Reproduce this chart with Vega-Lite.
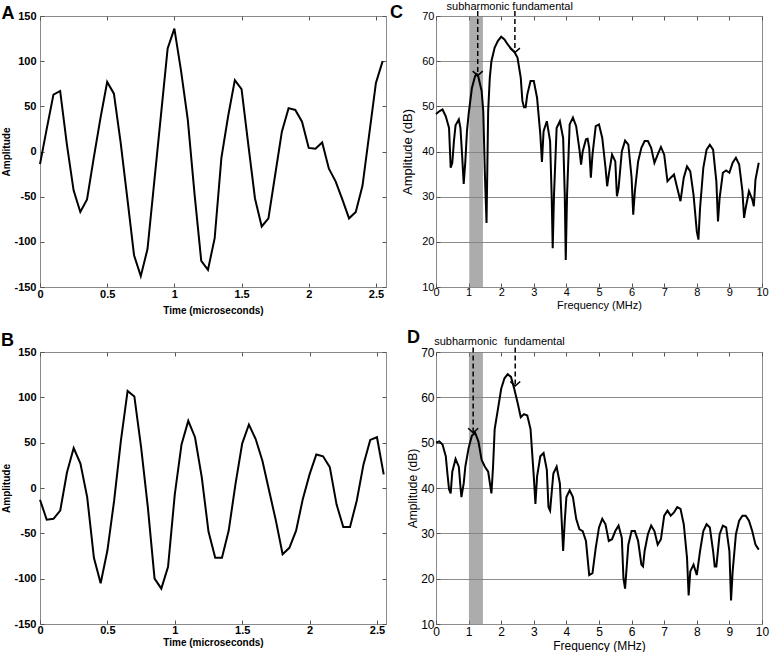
{
  "$schema": "https://vega.github.io/schema/vega-lite/v6.json",
  "autosize": {"type": "pad"},
  "padding": 0,
  "background": "white",
  "bounds": "flush",
  "columns": 2,
  "spacing": {"row": 65, "column": 50},
  "config": {
    "font": "Liberation Sans",
    "view": {"stroke": "#8a8a8a", "strokeWidth": 1},
    "axis": {"domain": false, "grid": false, "tickColor": "#555555", "tickSize": -4, "labelColor": "#000000", "titleColor": "#000000", "labelFlush": false, "labelOverlap": false}
  },
  "datasets": {
    "A": [
      {"t": 0, "v": -14}, {"t": 0.05, "v": 25}, {"t": 0.1, "v": 63}, {"t": 0.15, "v": 67}, {"t": 0.2, "v": 8},
      {"t": 0.25, "v": -43}, {"t": 0.3, "v": -67}, {"t": 0.35, "v": -53}, {"t": 0.4, "v": -7}, {"t": 0.45, "v": 37},
      {"t": 0.5, "v": 77}, {"t": 0.55, "v": 64}, {"t": 0.6, "v": 10}, {"t": 0.65, "v": -52}, {"t": 0.7, "v": -115},
      {"t": 0.75, "v": -138}, {"t": 0.8, "v": -108}, {"t": 0.85, "v": -34}, {"t": 0.9, "v": 40}, {"t": 0.95, "v": 114},
      {"t": 1.0, "v": 136}, {"t": 1.05, "v": 89}, {"t": 1.1, "v": 35}, {"t": 1.15, "v": -47}, {"t": 1.2, "v": -121},
      {"t": 1.25, "v": -131}, {"t": 1.3, "v": -96}, {"t": 1.35, "v": -7}, {"t": 1.4, "v": 39}, {"t": 1.45, "v": 79},
      {"t": 1.5, "v": 69}, {"t": 1.55, "v": 8}, {"t": 1.6, "v": -52}, {"t": 1.65, "v": -83}, {"t": 1.7, "v": -74},
      {"t": 1.75, "v": -26}, {"t": 1.8, "v": 22}, {"t": 1.85, "v": 48}, {"t": 1.9, "v": 46}, {"t": 1.95, "v": 33},
      {"t": 2.0, "v": 4}, {"t": 2.05, "v": 3}, {"t": 2.1, "v": 10}, {"t": 2.15, "v": -19}, {"t": 2.2, "v": -33},
      {"t": 2.25, "v": -53}, {"t": 2.3, "v": -74}, {"t": 2.35, "v": -67}, {"t": 2.4, "v": -38}, {"t": 2.45, "v": 19},
      {"t": 2.5, "v": 76}, {"t": 2.55, "v": 100}
    ],
    "B": [
      {"t": 0, "v": -13}, {"t": 0.05, "v": -35}, {"t": 0.1, "v": -34}, {"t": 0.15, "v": -25}, {"t": 0.2, "v": 17},
      {"t": 0.25, "v": 44}, {"t": 0.3, "v": 27}, {"t": 0.35, "v": -10}, {"t": 0.4, "v": -77}, {"t": 0.45, "v": -105},
      {"t": 0.5, "v": -69}, {"t": 0.55, "v": -14}, {"t": 0.6, "v": 52}, {"t": 0.65, "v": 107}, {"t": 0.7, "v": 101},
      {"t": 0.75, "v": 45}, {"t": 0.8, "v": -21}, {"t": 0.85, "v": -100}, {"t": 0.9, "v": -111}, {"t": 0.95, "v": -87},
      {"t": 1.0, "v": -7}, {"t": 1.05, "v": 48}, {"t": 1.1, "v": 74}, {"t": 1.15, "v": 56}, {"t": 1.2, "v": 12},
      {"t": 1.25, "v": -48}, {"t": 1.3, "v": -77}, {"t": 1.35, "v": -77}, {"t": 1.4, "v": -47}, {"t": 1.45, "v": 4},
      {"t": 1.5, "v": 49}, {"t": 1.55, "v": 70}, {"t": 1.6, "v": 54}, {"t": 1.65, "v": 30}, {"t": 1.7, "v": -3},
      {"t": 1.75, "v": -36}, {"t": 1.8, "v": -73}, {"t": 1.85, "v": -66}, {"t": 1.9, "v": -47}, {"t": 1.95, "v": -12},
      {"t": 2.0, "v": 15}, {"t": 2.05, "v": 37}, {"t": 2.1, "v": 35}, {"t": 2.15, "v": 23}, {"t": 2.2, "v": -18},
      {"t": 2.25, "v": -43}, {"t": 2.3, "v": -43}, {"t": 2.35, "v": -14}, {"t": 2.4, "v": 26}, {"t": 2.45, "v": 53},
      {"t": 2.5, "v": 56}, {"t": 2.55, "v": 15}
    ],
    "C": [
      {"f": 0, "db": 48.3}, {"f": 0.1, "db": 48.9}, {"f": 0.2, "db": 49.3}, {"f": 0.3, "db": 47.8}, {"f": 0.4, "db": 45.2},
      {"f": 0.45, "db": 36.4}, {"f": 0.5, "db": 37.5}, {"f": 0.55, "db": 42.3}, {"f": 0.6, "db": 45.8}, {"f": 0.7, "db": 47.1},
      {"f": 0.75, "db": 45.2}, {"f": 0.8, "db": 39.3}, {"f": 0.85, "db": 32.8}, {"f": 0.9, "db": 37.8}, {"f": 0.95, "db": 44.5},
      {"f": 1.0, "db": 48.2}, {"f": 1.1, "db": 54}, {"f": 1.2, "db": 56.7}, {"f": 1.25, "db": 57.1}, {"f": 1.3, "db": 56.5},
      {"f": 1.4, "db": 53.4}, {"f": 1.45, "db": 48.9}, {"f": 1.5, "db": 34.9}, {"f": 1.55, "db": 24.2}, {"f": 1.6, "db": 48.9},
      {"f": 1.65, "db": 56.3}, {"f": 1.7, "db": 60}, {"f": 1.8, "db": 63}, {"f": 1.9, "db": 64.5}, {"f": 2.0, "db": 65.4},
      {"f": 2.1, "db": 64.8}, {"f": 2.2, "db": 63.7}, {"f": 2.3, "db": 62.8}, {"f": 2.4, "db": 62.1}, {"f": 2.5, "db": 60.8},
      {"f": 2.6, "db": 56.3}, {"f": 2.65, "db": 51.2}, {"f": 2.7, "db": 49.8}, {"f": 2.75, "db": 49.8}, {"f": 2.8, "db": 52.6},
      {"f": 2.9, "db": 55.6}, {"f": 3.0, "db": 55.6}, {"f": 3.1, "db": 51.9}, {"f": 3.2, "db": 43.8}, {"f": 3.25, "db": 37.7},
      {"f": 3.3, "db": 44.5}, {"f": 3.4, "db": 46.7}, {"f": 3.5, "db": 42.3}, {"f": 3.55, "db": 29.7}, {"f": 3.58, "db": 18.6},
      {"f": 3.62, "db": 30.4}, {"f": 3.7, "db": 45.2}, {"f": 3.8, "db": 46.7}, {"f": 3.9, "db": 43}, {"f": 3.95, "db": 30.4},
      {"f": 3.98, "db": 16}, {"f": 4.02, "db": 30.4}, {"f": 4.1, "db": 46}, {"f": 4.2, "db": 47.5}, {"f": 4.3, "db": 45.6},
      {"f": 4.4, "db": 40.4}, {"f": 4.45, "db": 37.1}, {"f": 4.5, "db": 40}, {"f": 4.6, "db": 42.7}, {"f": 4.65, "db": 42.8},
      {"f": 4.7, "db": 40.8}, {"f": 4.75, "db": 34.2}, {"f": 4.8, "db": 39.3}, {"f": 4.9, "db": 45.6}, {"f": 5.0, "db": 46},
      {"f": 5.1, "db": 43}, {"f": 5.2, "db": 36.4}, {"f": 5.25, "db": 32.3}, {"f": 5.3, "db": 34.9}, {"f": 5.4, "db": 39.3},
      {"f": 5.5, "db": 37.8}, {"f": 5.55, "db": 30.1}, {"f": 5.6, "db": 31.9}, {"f": 5.7, "db": 40}, {"f": 5.8, "db": 42.4},
      {"f": 5.9, "db": 41.5}, {"f": 6.0, "db": 34.2}, {"f": 6.05, "db": 26}, {"f": 6.1, "db": 31.2}, {"f": 6.2, "db": 37.8},
      {"f": 6.3, "db": 40.8}, {"f": 6.4, "db": 42.3}, {"f": 6.5, "db": 42.3}, {"f": 6.6, "db": 40.8}, {"f": 6.7, "db": 37.5},
      {"f": 6.8, "db": 39.3}, {"f": 6.9, "db": 41}, {"f": 7.0, "db": 39.3}, {"f": 7.1, "db": 33.4}, {"f": 7.2, "db": 34.2},
      {"f": 7.3, "db": 34.9}, {"f": 7.4, "db": 31.9}, {"f": 7.5, "db": 29}, {"f": 7.6, "db": 34.2}, {"f": 7.7, "db": 36.7},
      {"f": 7.8, "db": 35.6}, {"f": 7.9, "db": 30.4}, {"f": 8.0, "db": 22.3}, {"f": 8.05, "db": 20.5}, {"f": 8.1, "db": 27.5},
      {"f": 8.2, "db": 36.4}, {"f": 8.3, "db": 40.4}, {"f": 8.4, "db": 41.5}, {"f": 8.5, "db": 40.4}, {"f": 8.6, "db": 33.4},
      {"f": 8.65, "db": 24.5}, {"f": 8.7, "db": 29.7}, {"f": 8.8, "db": 35.3}, {"f": 8.9, "db": 35.8}, {"f": 9.0, "db": 35.3},
      {"f": 9.1, "db": 37.5}, {"f": 9.2, "db": 38.6}, {"f": 9.3, "db": 37.1}, {"f": 9.4, "db": 31.2}, {"f": 9.45, "db": 25.3},
      {"f": 9.5, "db": 27.5}, {"f": 9.6, "db": 31.2}, {"f": 9.7, "db": 29.4}, {"f": 9.75, "db": 27.9}, {"f": 9.8, "db": 33.8},
      {"f": 9.9, "db": 37.5}
    ],
    "D": [
      {"f": 0, "db": 50}, {"f": 0.1, "db": 50.3}, {"f": 0.2, "db": 49.6}, {"f": 0.3, "db": 47}, {"f": 0.35, "db": 43.2},
      {"f": 0.4, "db": 39.7}, {"f": 0.45, "db": 38.8}, {"f": 0.5, "db": 43.6}, {"f": 0.6, "db": 46.4}, {"f": 0.7, "db": 44.7},
      {"f": 0.75, "db": 40.3}, {"f": 0.78, "db": 38}, {"f": 0.85, "db": 41}, {"f": 0.9, "db": 44.7}, {"f": 1.0, "db": 48.8},
      {"f": 1.1, "db": 51.5}, {"f": 1.2, "db": 52.2}, {"f": 1.3, "db": 50.3}, {"f": 1.4, "db": 46.2}, {"f": 1.5, "db": 44.7},
      {"f": 1.6, "db": 43.6}, {"f": 1.7, "db": 38.8}, {"f": 1.75, "db": 44.7}, {"f": 1.8, "db": 53}, {"f": 1.9, "db": 57.4},
      {"f": 2.0, "db": 61.9}, {"f": 2.1, "db": 64.2}, {"f": 2.2, "db": 65.1}, {"f": 2.3, "db": 64.5}, {"f": 2.4, "db": 61.9},
      {"f": 2.5, "db": 58.9}, {"f": 2.6, "db": 55.6}, {"f": 2.7, "db": 56.3}, {"f": 2.8, "db": 56}, {"f": 2.9, "db": 53},
      {"f": 3.0, "db": 42.5}, {"f": 3.05, "db": 36.5}, {"f": 3.1, "db": 42.5}, {"f": 3.2, "db": 47}, {"f": 3.3, "db": 47.7},
      {"f": 3.4, "db": 44}, {"f": 3.45, "db": 35.8}, {"f": 3.5, "db": 35}, {"f": 3.6, "db": 43.2}, {"f": 3.7, "db": 44.7},
      {"f": 3.8, "db": 41}, {"f": 3.9, "db": 26.1}, {"f": 3.95, "db": 32.8}, {"f": 4.0, "db": 38}, {"f": 4.1, "db": 39.5},
      {"f": 4.2, "db": 38}, {"f": 4.3, "db": 33.2}, {"f": 4.4, "db": 30.9}, {"f": 4.5, "db": 30.5}, {"f": 4.6, "db": 28.3},
      {"f": 4.7, "db": 20.8}, {"f": 4.8, "db": 21.2}, {"f": 4.9, "db": 26.8}, {"f": 5.0, "db": 31.3}, {"f": 5.1, "db": 33.2},
      {"f": 5.2, "db": 32}, {"f": 5.3, "db": 28.3}, {"f": 5.4, "db": 28.7}, {"f": 5.5, "db": 30.5}, {"f": 5.6, "db": 31.7},
      {"f": 5.7, "db": 29}, {"f": 5.75, "db": 20.1}, {"f": 5.8, "db": 17.8}, {"f": 5.9, "db": 27.5}, {"f": 6.0, "db": 30.5},
      {"f": 6.1, "db": 30.5}, {"f": 6.2, "db": 28.3}, {"f": 6.3, "db": 23.1}, {"f": 6.35, "db": 22.7}, {"f": 6.4, "db": 26.1},
      {"f": 6.5, "db": 29.8}, {"f": 6.6, "db": 31.7}, {"f": 6.7, "db": 30.5}, {"f": 6.8, "db": 27.5}, {"f": 6.9, "db": 28.7},
      {"f": 7.0, "db": 33.9}, {"f": 7.1, "db": 35}, {"f": 7.2, "db": 33.9}, {"f": 7.3, "db": 34.6}, {"f": 7.4, "db": 35.8},
      {"f": 7.5, "db": 35.4}, {"f": 7.6, "db": 32}, {"f": 7.7, "db": 24.6}, {"f": 7.75, "db": 16.3}, {"f": 7.8, "db": 21.6},
      {"f": 7.9, "db": 23.1}, {"f": 8.0, "db": 20.8}, {"f": 8.1, "db": 26.1}, {"f": 8.2, "db": 30.5}, {"f": 8.3, "db": 32},
      {"f": 8.4, "db": 31.3}, {"f": 8.5, "db": 26.1}, {"f": 8.55, "db": 22.7}, {"f": 8.6, "db": 22.7}, {"f": 8.7, "db": 29.8},
      {"f": 8.8, "db": 31.7}, {"f": 8.9, "db": 31.3}, {"f": 9.0, "db": 26.1}, {"f": 9.05, "db": 15.2}, {"f": 9.1, "db": 21.6},
      {"f": 9.2, "db": 29.8}, {"f": 9.3, "db": 32.8}, {"f": 9.4, "db": 33.9}, {"f": 9.5, "db": 33.9}, {"f": 9.6, "db": 32.8},
      {"f": 9.7, "db": 30.5}, {"f": 9.8, "db": 27.5}, {"f": 9.9, "db": 26.4}
    ],
    "bandC": [{"from": 1.02, "to": 1.44}],
    "bandD": [{"from": 1.01, "to": 1.44}],
    "arrowsC": [
      {"name": "subharmonic", "f": 1.28, "top": 71.1, "tip": 56.8, "labelF": 1.29, "labelY": 72.05},
      {"name": "fundamental", "f": 2.42, "top": 71.1, "tip": 61.9, "labelF": 3.27, "labelY": 72.05}
    ],
    "arrowsD": [
      {"name": "subharmonic", "f": 1.14, "top": 71.0, "tip": 52.2, "labelF": 0.91, "labelY": 72.1},
      {"name": "fundamental", "f": 2.43, "top": 71.0, "tip": 62.5, "labelF": 3.02, "labelY": 72.1}
    ],
    "letterA": [{"x": -0.238, "y": 146.7, "label": "A"}],
    "letterB": [{"x": -0.242, "y": 156.6, "label": "B"}],
    "letterC": [{"x": -1.21, "y": 69.56, "label": "C"}],
    "letterD": [{"x": -0.69, "y": 71.99, "label": "D"}]
  },
  "concat": [
    {
      "width": 346, "height": 271,
      "layer": [
        {
          "data": {"name": "A"},
          "mark": {"type": "line", "color": "#000000", "strokeWidth": 2},
          "encoding": {
            "x": {"field": "t", "type": "quantitative", "scale": {"domain": [0, 2.575], "nice": false, "zero": false},
              "axis": {"orient": "bottom", "values": [0, 0.5, 1, 1.5, 2, 2.5], "format": "~g", "title": "Time (microseconds)", "labelFontSize": 11, "labelFontWeight": "bold", "titleFontSize": 10, "titleFontWeight": "bold", "labelPadding": 5, "titlePadding": 6}},
            "y": {"field": "v", "type": "quantitative", "scale": {"domain": [-150, 150], "nice": false, "zero": false},
              "axis": {"orient": "left", "values": [-150, -100, -50, 0, 50, 100, 150], "labelExpr": "replace(datum.label, '\u2212', '-')", "title": "Amplitude", "labelFontSize": 11, "labelFontWeight": "bold", "titleFontSize": 10, "titleFontWeight": "bold", "labelPadding": 8, "titlePadding": 2}}
          }
        },
        {
          "data": {"name": "letterA"},
          "mark": {"type": "text", "fontSize": 18, "fontWeight": "bold", "align": "center", "baseline": "alphabetic", "clip": false, "color": "#000000"},
          "encoding": {
            "x": {"field": "x", "type": "quantitative", "scale": {"domain": [0, 2.575], "nice": false, "zero": false},
              "axis": {"orient": "top", "values": [0, 0.5, 1, 1.5, 2, 2.5], "labels": false, "title": null}},
            "y": {"field": "y", "type": "quantitative", "scale": {"domain": [-150, 150], "nice": false, "zero": false},
              "axis": {"orient": "right", "values": [-150, -100, -50, 0, 50, 100, 150], "labels": false, "title": null}},
            "text": {"field": "label"}
          }
        }
      ],
      "resolve": {"axis": {"x": "independent", "y": "independent"}}
    },
    {
      "width": 326, "height": 271,
      "layer": [
        {
          "data": {"name": "bandC"},
          "mark": {"type": "rect", "color": "#808080", "opacity": 0.65},
          "encoding": {
            "x": {"field": "from", "type": "quantitative", "scale": {"domain": [0, 10], "nice": false, "zero": false},
              "axis": {"orient": "bottom", "values": [0, 1, 2, 3, 4, 5, 6, 7, 8, 9, 10], "title": "Frequency (MHz)", "labelFontSize": 11, "titleFontSize": 11, "titleFontWeight": "normal", "labelPadding": 3, "titlePadding": 2}},
            "x2": {"field": "to"}
          }
        },
        {
          "data": {"name": "C"},
          "mark": {"type": "line", "color": "#000000", "strokeWidth": 2},
          "encoding": {
            "x": {"field": "f", "type": "quantitative", "scale": {"domain": [0, 10], "nice": false, "zero": false}, "axis": null},
            "y": {"field": "db", "type": "quantitative", "scale": {"domain": [10, 70], "nice": false, "zero": false},
              "axis": {"orient": "left", "values": [10, 20, 30, 40, 50, 60, 70], "grid": true, "gridColor": "#8c8c8c", "gridOpacity": 1, "gridWidth": 1, "title": "Amplitude (dB)", "labelFontSize": 11, "titleFontSize": 13, "titleFontWeight": "normal", "labelPadding": 6, "titlePadding": 7}}
          }
        },
        {
          "data": {"name": "arrowsC"},
          "mark": {"type": "rule", "color": "#000000", "strokeWidth": 1.5, "strokeDash": [5, 3], "clip": false},
          "encoding": {
            "x": {"field": "f", "type": "quantitative", "scale": {"domain": [0, 10], "nice": false, "zero": false}, "axis": null},
            "y": {"field": "top", "type": "quantitative", "scale": {"domain": [10, 70], "nice": false, "zero": false}, "axis": null},
            "y2": {"field": "tip"}
          }
        },
        {
          "data": {"name": "arrowsC"},
          "mark": {"type": "point", "shape": "M-1,-0.9L0,0L1,-0.9", "size": 100, "filled": false, "stroke": "#000000", "strokeWidth": 1.5, "opacity": 1},
          "encoding": {
            "x": {"field": "f", "type": "quantitative", "scale": {"domain": [0, 10], "nice": false, "zero": false}, "axis": null},
            "y": {"field": "tip", "type": "quantitative", "scale": {"domain": [10, 70], "nice": false, "zero": false}, "axis": null}
          }
        },
        {
          "data": {"name": "arrowsC"},
          "mark": {"type": "text", "fontSize": 11, "align": "center", "baseline": "middle", "clip": false, "color": "#000000"},
          "encoding": {
            "x": {"field": "labelF", "type": "quantitative", "scale": {"domain": [0, 10], "nice": false, "zero": false}, "axis": null},
            "y": {"field": "labelY", "type": "quantitative", "scale": {"domain": [10, 70], "nice": false, "zero": false}, "axis": null},
            "text": {"field": "name"}
          }
        },
        {
          "data": {"name": "letterC"},
          "mark": {"type": "text", "fontSize": 18, "fontWeight": "bold", "align": "center", "baseline": "alphabetic", "clip": false, "color": "#000000"},
          "encoding": {
            "x": {"field": "x", "type": "quantitative", "scale": {"domain": [0, 10], "nice": false, "zero": false},
              "axis": {"orient": "top", "values": [0, 1, 2, 3, 4, 5, 6, 7, 8, 9, 10], "labels": false, "title": null}},
            "y": {"field": "y", "type": "quantitative", "scale": {"domain": [10, 70], "nice": false, "zero": false}, "axis": null},
            "text": {"field": "label"}
          }
        }
      ],
      "resolve": {"axis": {"x": "independent", "y": "independent"}}
    },
    {
      "width": 346, "height": 272,
      "layer": [
        {
          "data": {"name": "B"},
          "mark": {"type": "line", "color": "#000000", "strokeWidth": 2},
          "encoding": {
            "x": {"field": "t", "type": "quantitative", "scale": {"domain": [0, 2.567], "nice": false, "zero": false},
              "axis": {"orient": "bottom", "values": [0, 0.5, 1, 1.5, 2, 2.5], "format": "~g", "title": "Time (microseconds)", "labelFontSize": 11, "labelFontWeight": "bold", "titleFontSize": 10, "titleFontWeight": "bold", "labelPadding": 4, "titlePadding": 2}},
            "y": {"field": "v", "type": "quantitative", "scale": {"domain": [-150, 150], "nice": false, "zero": false},
              "axis": {"orient": "left", "values": [-150, -100, -50, 0, 50, 100, 150], "labelExpr": "replace(datum.label, '\u2212', '-')", "title": "Amplitude", "labelFontSize": 11, "labelFontWeight": "bold", "titleFontSize": 10, "titleFontWeight": "bold", "labelPadding": 8, "titlePadding": 2}}
          }
        },
        {
          "data": {"name": "letterB"},
          "mark": {"type": "text", "fontSize": 18, "fontWeight": "bold", "align": "center", "baseline": "alphabetic", "clip": false, "color": "#000000"},
          "encoding": {
            "x": {"field": "x", "type": "quantitative", "scale": {"domain": [0, 2.567], "nice": false, "zero": false},
              "axis": {"orient": "top", "values": [0, 0.5, 1, 1.5, 2, 2.5], "labels": false, "title": null}},
            "y": {"field": "y", "type": "quantitative", "scale": {"domain": [-150, 150], "nice": false, "zero": false},
              "axis": {"orient": "right", "values": [-150, -100, -50, 0, 50, 100, 150], "labels": false, "title": null}},
            "text": {"field": "label"}
          }
        }
      ],
      "resolve": {"axis": {"x": "independent", "y": "independent"}}
    },
    {
      "width": 326, "height": 272,
      "layer": [
        {
          "data": {"name": "bandD"},
          "mark": {"type": "rect", "color": "#808080", "opacity": 0.65},
          "encoding": {
            "x": {"field": "from", "type": "quantitative", "scale": {"domain": [0, 10], "nice": false, "zero": false},
              "axis": {"orient": "bottom", "values": [0, 1, 2, 3, 4, 5, 6, 7, 8, 9, 10], "title": "Frequency (MHz)", "labelFontSize": 12, "titleFontSize": 12, "titleFontWeight": "normal", "labelPadding": 6, "titlePadding": 3}},
            "x2": {"field": "to"}
          }
        },
        {
          "data": {"name": "D"},
          "mark": {"type": "line", "color": "#000000", "strokeWidth": 2},
          "encoding": {
            "x": {"field": "f", "type": "quantitative", "scale": {"domain": [0, 10], "nice": false, "zero": false}, "axis": null},
            "y": {"field": "db", "type": "quantitative", "scale": {"domain": [10, 70], "nice": false, "zero": false},
              "axis": {"orient": "left", "values": [10, 20, 30, 40, 50, 60, 70], "grid": true, "gridColor": "#8c8c8c", "gridOpacity": 1, "gridWidth": 1, "title": "Amplitude (dB)", "labelFontSize": 12, "titleFontSize": 12, "titleFontWeight": "normal", "labelPadding": 6, "titlePadding": 1}}
          }
        },
        {
          "data": {"name": "arrowsD"},
          "mark": {"type": "rule", "color": "#000000", "strokeWidth": 1.5, "strokeDash": [5, 3], "clip": false},
          "encoding": {
            "x": {"field": "f", "type": "quantitative", "scale": {"domain": [0, 10], "nice": false, "zero": false}, "axis": null},
            "y": {"field": "top", "type": "quantitative", "scale": {"domain": [10, 70], "nice": false, "zero": false}, "axis": null},
            "y2": {"field": "tip"}
          }
        },
        {
          "data": {"name": "arrowsD"},
          "mark": {"type": "point", "shape": "M-1,-0.9L0,0L1,-0.9", "size": 100, "filled": false, "stroke": "#000000", "strokeWidth": 1.5, "opacity": 1},
          "encoding": {
            "x": {"field": "f", "type": "quantitative", "scale": {"domain": [0, 10], "nice": false, "zero": false}, "axis": null},
            "y": {"field": "tip", "type": "quantitative", "scale": {"domain": [10, 70], "nice": false, "zero": false}, "axis": null}
          }
        },
        {
          "data": {"name": "arrowsD"},
          "mark": {"type": "text", "fontSize": 11, "align": "center", "baseline": "middle", "clip": false, "color": "#000000"},
          "encoding": {
            "x": {"field": "labelF", "type": "quantitative", "scale": {"domain": [0, 10], "nice": false, "zero": false}, "axis": null},
            "y": {"field": "labelY", "type": "quantitative", "scale": {"domain": [10, 70], "nice": false, "zero": false}, "axis": null},
            "text": {"field": "name"}
          }
        },
        {
          "data": {"name": "letterD"},
          "mark": {"type": "text", "fontSize": 18, "fontWeight": "bold", "align": "center", "baseline": "alphabetic", "clip": false, "color": "#000000"},
          "encoding": {
            "x": {"field": "x", "type": "quantitative", "scale": {"domain": [0, 10], "nice": false, "zero": false},
              "axis": {"orient": "top", "values": [0, 1, 2, 3, 4, 5, 6, 7, 8, 9, 10], "labels": false, "title": null}},
            "y": {"field": "y", "type": "quantitative", "scale": {"domain": [10, 70], "nice": false, "zero": false}, "axis": null},
            "text": {"field": "label"}
          }
        }
      ],
      "resolve": {"axis": {"x": "independent", "y": "independent"}}
    }
  ]
}
